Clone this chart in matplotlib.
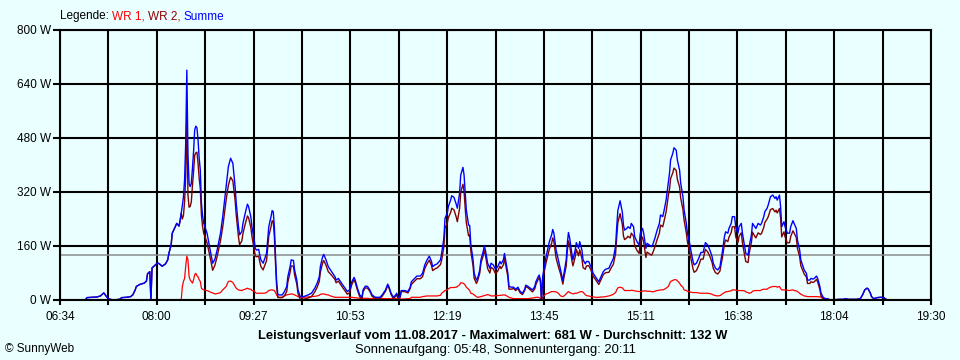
import matplotlib
matplotlib.use("Agg")
import matplotlib.pyplot as plt
import numpy as np

# ---------------- data ----------------
times = [
    "06:57", "06:58", "07:02", "07:07", "07:10", "07:12", "07:13", "07:15", "07:17", "07:19",
    "07:21", "07:27", "07:29", "07:33", "07:37", "07:39", "07:41", "07:42", "07:45", "07:49",
    "07:51", "07:52", "07:54", "07:55", "07:56", "07:59", "08:01", "08:03", "08:05", "08:08",
    "08:10", "08:11", "08:13", "08:14", "08:16", "08:18", "08:20", "08:21", "08:22", "08:23",
    "08:24", "08:25", "08:26", "08:27", "08:28", "08:29", "08:30", "08:31", "08:32", "08:33",
    "08:34", "08:35", "08:36", "08:37", "08:38", "08:39", "08:40", "08:41", "08:42", "08:45",
    "08:47", "08:49", "08:50", "08:52", "08:54", "08:57", "08:59", "09:02", "09:04", "09:06",
    "09:08", "09:10", "09:11", "09:13", "09:14", "09:16", "09:17", "09:19", "09:21", "09:22",
    "09:24", "09:25", "09:27", "09:28", "09:29", "09:31", "09:32", "09:33", "09:35", "09:36",
    "09:38", "09:39", "09:40", "09:42", "09:43", "09:44", "09:45", "09:46", "09:47", "09:48",
    "09:49", "09:52", "09:54", "09:56", "09:57", "09:59", "10:00", "10:02", "10:03", "10:05",
    "10:06", "10:08", "10:11", "10:15", "10:18", "10:21", "10:23", "10:25", "10:26", "10:28",
    "10:29", "10:31", "10:33", "10:35", "10:37", "10:39", "10:40", "10:42", "10:44", "10:46",
    "10:48", "10:50", "10:52", "10:54", "10:56", "10:57", "10:59", "11:01", "11:03", "11:04",
    "11:06", "11:08", "11:10", "11:12", "11:15", "11:19", "11:21", "11:24", "11:26", "11:27",
    "11:29", "11:31", "11:33", "11:34", "11:35", "11:37", "11:38", "11:41", "11:44", "11:46",
    "11:47", "11:50", "11:52", "11:55", "11:57", "11:59", "12:01", "12:03", "12:05", "12:06",
    "12:08", "12:10", "12:13", "12:14", "12:16", "12:17", "12:19", "12:20", "12:22", "12:23",
    "12:25", "12:27", "12:28", "12:30", "12:31", "12:33", "12:34", "12:35", "12:36", "12:38",
    "12:39", "12:40", "12:42", "12:43", "12:45", "12:46", "12:48", "12:49", "12:51", "12:52",
    "12:53", "12:55", "12:57", "12:58", "13:00", "13:02", "13:04", "13:06", "13:07", "13:09",
    "13:10", "13:11", "13:13", "13:14", "13:16", "13:18", "13:20", "13:22", "13:24", "13:26",
    "13:28", "13:29", "13:31", "13:33", "13:35", "13:37", "13:38", "13:40", "13:41", "13:42",
    "13:43", "13:44", "13:45", "13:47", "13:49", "13:50", "13:52", "13:53", "13:54", "13:56",
    "13:58", "14:00", "14:02", "14:03", "14:05", "14:06", "14:07", "14:08", "14:10", "14:11",
    "14:13", "14:14", "14:16", "14:17", "14:19", "14:20", "14:22", "14:23", "14:25", "14:27",
    "14:29", "14:31", "14:33", "14:34", "14:36", "14:38", "14:40", "14:43", "14:45", "14:47",
    "14:49", "14:50", "14:51", "14:53", "14:55", "14:56", "14:57", "14:59", "15:00", "15:02",
    "15:03", "15:05", "15:06", "15:08", "15:10", "15:11", "15:13", "15:14", "15:16", "15:17",
    "15:19", "15:21", "15:22", "15:24", "15:26", "15:28", "15:29", "15:31", "15:32", "15:34",
    "15:36", "15:37", "15:38", "15:40", "15:41", "15:43", "15:44", "15:46", "15:47", "15:49",
    "15:50", "15:52", "15:53", "15:55", "15:56", "15:58", "15:59", "16:01", "16:03", "16:05",
    "16:07", "16:09", "16:11", "16:13", "16:15", "16:16", "16:18", "16:20", "16:22", "16:23",
    "16:24", "16:26", "16:27", "16:29", "16:30", "16:32", "16:33", "16:35", "16:36", "16:38",
    "16:39", "16:41", "16:42", "16:44", "16:45", "16:47", "16:48", "16:50", "16:51", "16:53",
    "16:54", "16:56", "16:58", "16:59", "17:01", "17:02", "17:04", "17:05", "17:07", "17:09",
    "17:11", "17:12", "17:13", "17:15", "17:16", "17:17", "17:19", "17:20", "17:22", "17:24",
    "17:25", "17:27", "17:28", "17:30", "17:31", "17:33", "17:34", "17:36", "17:37", "17:39",
    "17:40", "17:42", "17:43", "17:45", "17:46", "17:48", "17:49", "17:51", "17:52", "17:54",
    "17:55", "17:59", "18:00", "18:09", "18:12", "18:14", "18:16", "18:24", "18:27", "18:29",
    "18:31", "18:33", "18:34", "18:36", "18:37", "18:39", "18:42", "18:45", "18:48", "18:50",
]

summe_w = [
    2, 7, 8, 9, 12, 18, 21, 12, 4, 2,
    0, 2, 7, 8, 10, 16, 30, 40, 46, 50,
    56, 78, 84, 0, 95, 104, 110, 106, 100, 107,
    119, 138, 163, 198, 212, 227, 219, 235, 257, 280,
    306, 356, 465, 681, 430, 345, 336, 346, 390, 440,
    504, 515, 510, 474, 420, 385, 287, 250, 228, 198,
    163, 128, 109, 121, 148, 198, 247, 336, 395, 420,
    405, 336, 287, 217, 193, 203, 227, 257, 284, 277,
    247, 217, 178, 153, 148, 150, 133, 119, 109, 119,
    138, 178, 217, 247, 265, 262, 215, 130, 55, 18,
    15, 15, 25, 40, 69, 99, 119, 117, 89, 59,
    30, 10, 10, 15, 20, 35, 49, 69, 100, 128,
    135, 119, 99, 89, 79, 69, 59, 64, 54, 44,
    35, 25, 30, 54, 67, 59, 35, 15, 8, 30,
    41, 40, 30, 15, 8, 8, 15, 30, 47, 40,
    20, 8, 15, 20, 8, 10, 28, 28, 25, 38,
    54, 64, 71, 71, 79, 104, 119, 130, 114, 99,
    104, 107, 119, 138, 183, 242, 257, 277, 296, 309,
    304, 284, 272, 316, 370, 393, 370, 316, 267, 222,
    221, 165, 119, 79, 59, 64, 89, 119, 143, 160,
    148, 109, 94, 109, 104, 91, 99, 114, 107, 119,
    138, 119, 79, 40, 38, 38, 32, 38, 25, 20,
    32, 44, 40, 35, 30, 40, 54, 69, 74, 59,
    0, 69, 89, 128, 158, 173, 193, 209, 198, 148,
    119, 89, 57, 79, 119, 168, 200, 185, 138, 119,
    148, 170, 153, 173, 148, 119, 107, 114, 114, 99,
    79, 69, 59, 54, 69, 84, 91, 94, 109, 123,
    160, 217, 265, 294, 260, 222, 207, 212, 217, 212,
    227, 217, 188, 173, 163, 198, 212, 198, 153, 168,
    163, 158, 163, 183, 207, 227, 252, 247, 262, 296,
    350, 375, 415, 435, 451, 444, 415, 385, 346, 306,
    267, 227, 198, 168, 148, 114, 104, 109, 123, 141,
    141, 170, 163, 148, 128, 109, 94, 89, 99, 121,
    140, 188, 202, 198, 212, 227, 247, 247, 217, 198,
    217, 227, 198, 158, 138, 133, 158, 193, 227, 217,
    212, 227, 222, 227, 247, 262, 272, 282, 306, 311,
    301, 306, 296, 311, 277, 217, 232, 217, 198, 198,
    217, 235, 227, 212, 178, 148, 119, 99, 89, 79,
    59, 59, 64, 62, 64, 71, 64, 40, 20, 8,
    5, 2, 0, 2, 2, 4, 2, 2, 4, 15,
    30, 35, 33, 20, 10, 4, 7, 8, 7, 2,
]

wr1_w = [
    0, 0, 0, 0, 0, 0, 0, 0, 0, 0,
    0, 0, 0, 0, 0, 0, 0, 0, 0, 0,
    0, 0, 0, 0, 0, 0, 0, 0, 0, 0,
    0, 0, 0, 0, 0, 0, 0, 0, 0, 40,
    55, 64, 100, 130, 119, 70, 59, 55, 50, 60,
    75, 79, 72, 69, 60, 55, 35, 32, 30, 28,
    25, 22, 21, 18, 19, 22, 30, 40, 55, 56,
    52, 40, 35, 30, 29, 28, 30, 32, 35, 33,
    32, 28, 27, 22, 20, 20, 20, 20, 20, 20,
    22, 25, 28, 30, 30, 29, 28, 22, 15, 10,
    8, 8, 12, 15, 16, 17, 18, 17, 15, 12,
    10, 8, 8, 9, 10, 11, 12, 14, 17, 18,
    18, 16, 15, 12, 10, 8, 8, 8, 8, 8,
    8, 8, 8, 8, 7, 7, 6, 5, 5, 5,
    5, 5, 4, 4, 4, 4, 4, 4, 4, 4,
    4, 4, 4, 4, 3, 3, 3, 3, 4, 4,
    8, 8, 8, 8, 10, 11, 12, 12, 12, 12,
    12, 12, 14, 20, 25, 28, 30, 33, 37, 37,
    37, 38, 40, 45, 51, 50, 48, 44, 38, 32,
    28, 20, 18, 15, 10, 8, 9, 10, 12, 13,
    14, 16, 14, 12, 12, 13, 13, 14, 14, 15,
    15, 14, 10, 8, 6, 4, 4, 4, 4, 4,
    4, 4, 4, 5, 6, 7, 8, 8, 7, 5,
    0, 8, 12, 18, 20, 22, 25, 25, 25, 24,
    20, 12, 10, 12, 18, 22, 25, 22, 20, 18,
    20, 20, 22, 24, 25, 23, 16, 13, 12, 10,
    9, 8, 8, 8, 9, 9, 10, 12, 14, 17,
    22, 30, 36, 38, 36, 32, 28, 28, 28, 28,
    29, 28, 27, 26, 25, 25, 26, 27, 27, 26,
    26, 25, 24, 26, 28, 29, 30, 30, 31, 35,
    40, 48, 55, 58, 60, 60, 57, 50, 44, 38,
    30, 28, 26, 24, 23, 22, 22, 22, 21, 20,
    20, 20, 20, 19, 17, 15, 13, 12, 13, 15,
    18, 22, 24, 25, 26, 27, 30, 30, 29, 28,
    28, 28, 28, 27, 24, 22, 20, 22, 26, 28,
    28, 28, 28, 30, 32, 32, 32, 35, 38, 40,
    40, 40, 38, 40, 34, 30, 30, 30, 29, 28,
    29, 30, 28, 27, 25, 20, 17, 14, 12, 11,
    10, 10, 10, 10, 10, 10, 10, 9, 8, 5,
    0, 0, 0, 0, 0, 0, 0, 0, 0, 0,
    0, 0, 0, 0, 0, 0, 0, 0, 0, 0,
]

x_start, x_end = "06:34", "19:30"
x_tick_labels = ["06:34", "08:00", "09:27", "10:53", "12:19",
                 "13:45", "15:11", "16:38", "18:04", "19:30"]
y_ticks = [0, 160, 320, 480, 640, 800]
average_w = 132
maximum_w = 681
day = "11.08.2017"
sunrise, sunset = "05:48", "20:11"

# ---------------- drawing ----------------
def to_min(s):
    h, m = s.split(":")
    return int(h) * 60 + int(m)

t = np.array([to_min(s) for s in times], dtype=float)
summe = np.array(summe_w, dtype=float)
wr1 = np.array(wr1_w, dtype=float)
wr2 = summe - wr1

BG = "#EAFFFF"
FONT = "Liberation Sans"
plt.rcParams["font.family"] = [FONT, "DejaVu Sans"]

fig = plt.figure(figsize=(9.6, 3.6), dpi=100, facecolor=BG)
ax = fig.add_axes([60 / 960, 60 / 360, 871 / 960, 270 / 360], facecolor=BG)

t0, t1 = to_min(x_start), to_min(x_end)
ax.set_xlim(t0, t1)
ax.set_ylim(0, 800)

n_major = 2 * (len(x_tick_labels) - 1)
xt = np.linspace(t0, t1, n_major + 1)
labels = []
for i in range(n_major + 1):
    labels.append(x_tick_labels[i // 2] if i % 2 == 0 else "")
ax.set_xticks(xt)
ax.set_xticklabels(labels)
ax.set_yticks(y_ticks)
ax.set_yticklabels([f"{v} W" for v in y_ticks])

ax.grid(True, color="black", linewidth=1.5, zorder=0.5)
ax.set_axisbelow(True)
for sp in ax.spines.values():
    sp.set_color("black")
    sp.set_linewidth(1.5)
    sp.set_zorder(6)

ax.tick_params(axis="x", direction="out", length=3.8, width=1.5, pad=4.0,
               labelsize=8.5, colors="black")
ax.tick_params(axis="y", direction="out", length=5.2, width=1.5, pad=1.0,
               labelsize=8.5, colors="black")

ax.axhline(average_w, color="#8c8c8c", linewidth=1.1, zorder=1)

ax.plot(t, wr1, color="#FF0000", linewidth=0.9, zorder=2)
ax.plot(t, wr2, color="#800000", linewidth=1.0, zorder=3)
ax.plot(t, summe, color="#0000FF", linewidth=1.0, zorder=4)

# legend (coloured words)
fig.canvas.draw()
renderer = fig.canvas.get_renderer()
parts = [("Legende:", "black"), ("WR 1,", "#FF0000"), ("WR 2,", "#900000"), ("Summe", "#0000FF")]
xpix = 60
for txt, col in parts:
    tt = fig.text(xpix / 960, 1 - 16.5 / 360, txt, color=col, ha="left", va="center",
                  fontsize=8.5)
    bb = tt.get_window_extent(renderer)
    xpix = bb.x1 + 3.0

fig.text(493 / 960, 1 - 336.5 / 360,
         f"Leistungsverlauf vom {day} - Maximalwert: {maximum_w} W - Durchschnitt: {average_w} W",
         ha="center", va="center", fontsize=9.3, fontweight="bold")
fig.text(495 / 960, 1 - 350 / 360,
         f"Sonnenaufgang: {sunrise}, Sonnenuntergang: {sunset}",
         ha="center", va="center", fontsize=9.4)
fig.text(5 / 960, 1 - 349 / 360, "\u00a9 SunnyWeb", ha="left", va="center", fontsize=8.5)

fig.savefig("out.png", dpi=100, facecolor=BG)
